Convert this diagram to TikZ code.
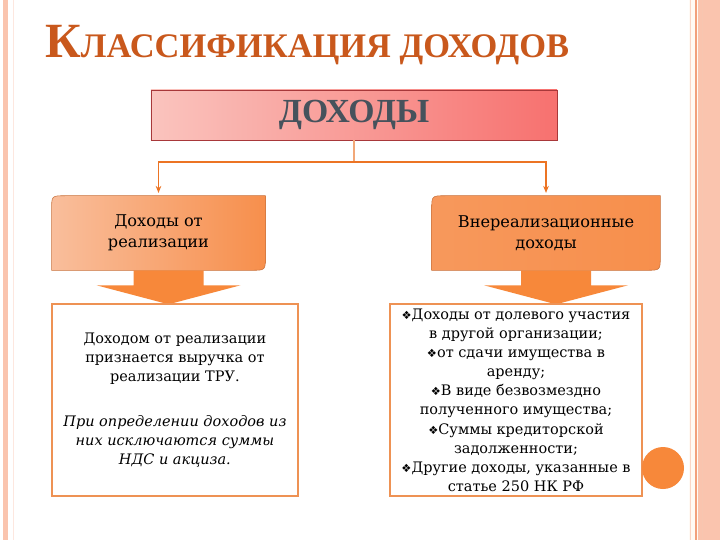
\documentclass[tikz,border=0pt]{standalone}
\usepackage{fontspec}
\setmainfont{DejaVu Serif}
\newfontfamily\titlefont{Liberation Serif}
\newfontfamily\bulletfont{DejaVu Sans}
\usepackage{xcolor}
\usetikzlibrary{arrows.meta,positioning,calc,backgrounds}

\definecolor{titleorange}{HTML}{C9581C}
\definecolor{headred}{HTML}{A8383A}
\definecolor{headpink}{HTML}{FAC4BE}
\definecolor{headsalmon}{HTML}{F7716F}
\definecolor{headtext}{HTML}{46525C}
\definecolor{peach}{HTML}{F9BE9C}
\definecolor{orangebox}{HTML}{F78F4C}
\definecolor{orangeedge}{HTML}{C8733E}
\definecolor{linkorange}{HTML}{EC7424}
\definecolor{stemorange}{HTML}{F2A878}
\definecolor{arroworange}{HTML}{F7883A}
\definecolor{textedge}{HTML}{EE9254}
\definecolor{stripe}{HTML}{FAC4AE}
\definecolor{stripeline}{HTML}{F2A07C}

\newcommand{\dia}{{\bulletfont\fontsize{8}{8}\selectfont ❖}}

\begin{document}
\begin{tikzpicture}[
    x=0.025cm, y=-0.025cm,
    headbox/.style={rectangle, draw=headred, left color=headpink, right color=headsalmon, minimum width=10.15cm, minimum height=1.25cm, font=\titlefont\bfseries\fontsize{24}{24}\selectfont, text=headtext},
    catbox/.style={rectangle, align=center, minimum height=1.85cm, font=\fontsize{11.5}{15}\selectfont},
    catshape/.style={draw=orangeedge, thin},
    textbox/.style={rectangle, draw=textedge, line width=1.4pt, fill=white, align=center, minimum height=4.8cm, font=\fontsize{10.3}{13.6}\selectfont},
    link/.style={-{Stealth[length=5pt, width=4pt]}, line width=1.3pt, draw=linkorange, shorten >=2pt},
    stem/.style={line width=0.8pt, draw=stemorange},
    bigarrow/.style={fill=arroworange},
    dot/.style={circle, fill=arroworange, minimum size=1.05cm, inner sep=0pt}
]
    \useasboundingbox (0,0) rectangle (720,540);

    % page frame
    \begin{scope}[on background layer]
        \fill[white] (0,0) rectangle (720,540);
        \fill[stripe] (3,0) rectangle (8,540);
        \draw[stripe!40, line width=0.6pt] (13,0) -- (13,540);
        \fill[orange!4] (689,0) rectangle (720,540);
        \fill[stripe] (698,0) rectangle (720,540);
        \draw[stripe!70, line width=0.7pt] (690.5,0) -- (690.5,540);
        \draw[stripeline, line width=0.8pt] (696,0) -- (696,540);
        \draw[stripeline!60, line width=0.6pt] (702,0) -- (702,540);
    \end{scope}

    \node[anchor=base west, text=titleorange, font=\titlefont\bfseries\fontsize{24.5}{26}\selectfont, inner sep=0pt] (title) at (45,57)
        {{\fontsize{35}{35}\selectfont К}ЛАССИФИКАЦИЯ ДОХОДОВ};

    \node[headbox] (dohody) at (354,115) {ДОХОДЫ};

    \node[catbox, minimum width=5.33cm] (real) at (158.5,233) {Доходы от\\реализации};
    \node[catbox, minimum width=5.7cm] (vnereal) at (546,233) {Внереализационные\\доходы};

    % shaped fills behind the two category nodes
    \begin{scope}[on background layer]
        \foreach \n/\lc/\rc in {real/peach/orangebox, vnereal/orangebox!80!peach/orangebox} {
            \draw[catshape, left color=\lc, right color=\rc]
                ($(\n.north west)+(0,14)$) .. controls (\n.north west) .. ($(\n.north west)+(14,0)$)
                -- (\n.north east) -- ($(\n.south east)+(0,-14)$)
                .. controls (\n.south east) .. ($(\n.south east)+(-14,0)$)
                -- (\n.south west) -- cycle;
        }
    \end{scope}

    \draw[stem] (dohody.south) -- ++(0,22) coordinate (fork);
    \draw[link] (fork) -| (real.north);
    \draw[link] (fork) -| (vnereal.north);

    % block arrows
    \foreach \n in {real,vnereal} {
        \fill[bigarrow] ($(\n.south)+(-25,0)$) -- ($(\n.south)+(45,0)$) -- ($(\n.south)+(45,15)$)
            -- ($(\n.south)+(82,15)$) -- ($(\n.south)+(10,34)$) -- ($(\n.south)+(-62,15)$)
            -- ($(\n.south)+(-25,15)$) -- cycle;
    }

    \node[textbox, minimum width=6.15cm, below=0.82cm of real, xshift=0.41cm] (realtxt)
        {Доходом от реализации\\признается выручка от\\реализации ТРУ.\\[1.8em]
         \itshape При определении доходов из\\\itshape них исключаются суммы\\\itshape НДС и акциза.};
    \node[textbox, minimum width=6.3cm, below=0.82cm of vnereal, xshift=-0.75cm] (vnetxt)
        {\dia Доходы от долевого участия\\в другой организации;\\\dia от сдачи имущества в\\аренду;\\
         \dia В виде безвозмездно\\полученного имущества;\\\dia Суммы кредиторской\\задолженности;\\
         \dia Другие доходы, указанные в\\статье 250 НК РФ};

    \node[dot] (mark) at (663,468) {};
\end{tikzpicture}
\end{document}
